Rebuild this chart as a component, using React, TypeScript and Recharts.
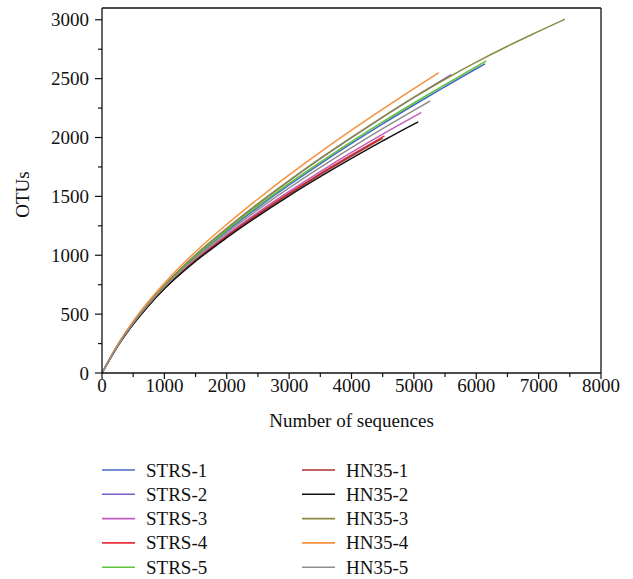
import React from 'react';
import { LineChart, Line, XAxis, YAxis, ReferenceLine } from 'recharts';

// rarefaction curves: sampled sequence counts shared by every series
const steps = [0, 100, 250, 500, 750, 1000, 1500, 2000, 2500, 3000, 3500, 4000, 4500, 5000, 5500, 6000, 6500, 7000];

const names = ['STRS-1', 'STRS-2', 'STRS-3', 'STRS-4', 'STRS-5', 'HN35-1', 'HN35-2', 'HN35-3', 'HN35-4', 'HN35-5'];
const colors = ['#4468c4', '#7b5cc6', '#c05cbe', '#e8313a', '#5cc43a', '#a83234', '#111111', '#8a8a44', '#f5913e', '#8e8e8e'];

// last point of each curve
const endSeq = [6140, 5600, 5120, 4530, 6160, 4500, 5070, 7420, 5400, 5260];
const endOtu = [2625, 2535, 2212, 2014, 2650, 1995, 2133, 3005, 2550, 2310];

const strs1 = [0, 96, 232, 425, 590, 735, 987, 1205, 1407, 1597, 1777, 1950, 2116, 2276, 2432, 2584];
const strs2 = [0, 97, 234, 429, 596, 742, 1001, 1226, 1435, 1632, 1820, 1999, 2173, 2340, 2503];
const strs3 = [0, 96, 230, 420, 582, 725, 966, 1173, 1364, 1542, 1711, 1873, 2028, 2177];
const strs4 = [0, 95, 229, 417, 578, 720, 959, 1163, 1351, 1527, 1694, 1852, 2005];
const strs5 = [0, 97, 234, 429, 596, 742, 996, 1216, 1419, 1610, 1791, 1965, 2132, 2293, 2450, 2602];
const hn1 = [0, 95, 228, 416, 576, 718, 955, 1158, 1345, 1520, 1686, 1843];
const hn2 = [0, 95, 228, 414, 574, 715, 949, 1149, 1333, 1505, 1667, 1822, 1971, 2114];
const hn3 = [0, 97, 235, 431, 598, 745, 1004, 1229, 1438, 1634, 1822, 2001, 2174, 2341, 2495, 2640, 2775, 2901];
const hn4 = [0, 98, 240, 441, 612, 763, 1030, 1262, 1478, 1682, 1876, 2062, 2241, 2415];
const hn5 = [0, 96, 231, 423, 586, 730, 977, 1190, 1387, 1572, 1747, 1915, 2076, 2231];

const otuValues = [strs1, strs2, strs3, strs4, strs5, hn1, hn2, hn3, hn4, hn5];

const xTicks = [0, 500, 1000, 1500, 2000, 2500, 3000, 3500, 4000, 4500, 5000, 5500, 6000, 6500, 7000, 7500, 8000];
const yTicks = [0, 250, 500, 750, 1000, 1250, 1500, 1750, 2000, 2250, 2500, 2750, 3000];

const FONT = '"Liberation Serif", "DejaVu Serif", serif';
const INK = '#111';
const PLOT_LEFT = 102;
const PLOT_BOTTOM = 373;

const series = names.map((name, i) => ({
  name,
  color: colors[i],
  data: steps
    .filter((s) => s < endSeq[i])
    .map((s, j) => ({ x: s, y: otuValues[i][j] }))
    .concat([{ x: endSeq[i], y: endOtu[i] }]),
}));

const XTick = (props: any) => {
  const { x, payload } = props;
  const major = payload.value % 1000 === 0;
  return (
    <g>
      <line x1={x} x2={x} y1={PLOT_BOTTOM} y2={PLOT_BOTTOM + (major ? 6 : 4)} stroke={INK} strokeWidth={1.2} />
      {major && (
        <text x={x} y={PLOT_BOTTOM + 19} textAnchor="middle" fontSize={19} fontFamily={FONT} fill={INK}>
          {payload.value}
        </text>
      )}
    </g>
  );
};

const YTick = (props: any) => {
  const { y, payload } = props;
  const major = payload.value % 500 === 0;
  return (
    <g>
      <line x1={PLOT_LEFT} x2={PLOT_LEFT - (major ? 7 : 4)} y1={y} y2={y} stroke={INK} strokeWidth={1.2} />
      {major && (
        <text x={PLOT_LEFT - 13} y={y + 6.5} textAnchor="end" fontSize={19} fontFamily={FONT} fill={INK}>
          {payload.value}
        </text>
      )}
    </g>
  );
};

const YTitle = (props: any) => {
  const vb = props.viewBox || { y: 8, height: 365 };
  const cx = 22;
  const cy = vb.y + vb.height / 2 + 4;
  return (
    <text x={cx} y={cy} transform={`rotate(-90 ${cx} ${cy})`} textAnchor="middle" dominantBaseline="central"
      fontSize={19} fontFamily={FONT} fill={INK}>
      OTUs
    </text>
  );
};

const LegendBox = () => (
  <svg width={633} height={124} style={{ display: 'block' }}>
    {series.map((s, i) => {
      const col = Math.floor(i / 5);
      const row = i % 5;
      const lx = 102 + col * 200;
      const ly = 15 + row * 24.3;
      return (
        <g key={s.name}>
          <line x1={lx} x2={lx + 33} y1={ly} y2={ly} stroke={s.color} strokeWidth={1.6} />
          <text x={lx + 44} y={ly + 6.5} fontSize={19} fontFamily={FONT} fill={INK}>
            {s.name}
          </text>
        </g>
      );
    })}
  </svg>
);

export default function App() {
  return (
    <div style={{ position: 'absolute', left: 0, top: 0, width: 633, height: 579, background: '#fff' }}>
      <LineChart width={633} height={579} margin={{ top: 8, right: 32, left: 0, bottom: 152 }}>
        <XAxis
          type="number"
          dataKey="x"
          domain={[0, 8000]}
          ticks={xTicks}
          interval={0}
          tickLine={false}
          tick={<XTick />}
          height={54}
          stroke={INK}
          strokeWidth={1.3}
          allowDataOverflow
          label={{ value: 'Number of sequences', position: 'insideBottom', offset: 0, fontSize: 19, fontFamily: FONT, fill: INK }}
        />
        <YAxis
          type="number"
          domain={[0, 3100]}
          ticks={yTicks}
          interval={0}
          tickLine={false}
          tick={<YTick />}
          width={102}
          stroke={INK}
          strokeWidth={1.3}
          allowDataOverflow
          label={<YTitle />}
        />
        <ReferenceLine y={3100} stroke={INK} strokeWidth={1.3} />
        <ReferenceLine x={8000} stroke={INK} strokeWidth={1.3} />
        {series.map((s) => (
          <Line
            key={s.name}
            data={s.data}
            dataKey="y"
            name={s.name}
            type="monotone"
            stroke={s.color}
            strokeWidth={1.5}
            dot={false}
            activeDot={false}
            isAnimationActive={false}
          />
        ))}
      </LineChart>
      <div style={{ position: 'absolute', left: 0, top: 455 }}>
        <LegendBox />
      </div>
    </div>
  );
}
